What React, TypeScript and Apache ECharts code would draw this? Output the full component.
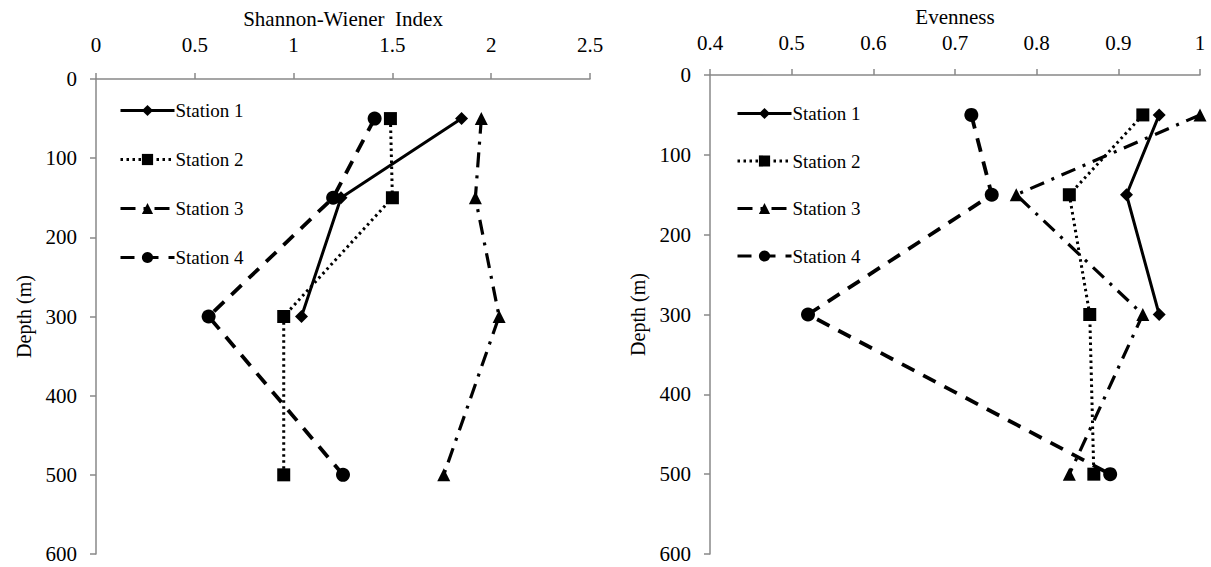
import React, { useEffect, useRef } from "react";
import * as echarts from "echarts";

const stations = ["Station 1", "Station 2", "Station 3", "Station 4"];
const depthTicks = [0, 100, 200, 300, 400, 500, 600];

// Shannon-Wiener Index: [index, depth (m)]
const sw1: number[][] = [[1.85, 50], [1.24, 150], [1.04, 300]];
const sw2: number[][] = [[1.49, 50], [1.5, 150], [0.95, 300], [0.95, 500]];
const sw3: number[][] = [[1.95, 50], [1.92, 150], [2.04, 300], [1.76, 500]];
const sw4: number[][] = [[1.41, 50], [1.2, 150], [0.57, 300], [1.25, 500]];

// Evenness: [evenness, depth (m)]
const ev1: number[][] = [[0.95, 50], [0.91, 150], [0.95, 300]];
const ev2: number[][] = [[0.93, 50], [0.84, 150], [0.865, 300], [0.87, 500]];
const ev3: number[][] = [[1.0, 50], [0.775, 150], [0.93, 300], [0.84, 500]];
const ev4: number[][] = [[0.72, 50], [0.745, 150], [0.52, 300], [0.89, 500]];

const FONT = "'Liberation Serif', 'Times New Roman', serif";

const styles = [
  { symbol: "diamond", symbolSize: 13, line: { type: "solid", width: 3 } },
  { symbol: "rect", symbolSize: 13, line: { type: [2.5, 3.5], width: 3 } },
  { symbol: "triangle", symbolSize: 13, line: { type: [15, 8, 3, 8], width: 3.2 } },
  { symbol: "circle", symbolSize: 14, line: { type: [14, 10], width: 3.8 } },
];

function makeSeries(data: number[][], idx: number, gridIdx: number) {
  const s = styles[idx];
  return {
    type: "line",
    name: stations[idx],
    xAxisIndex: gridIdx,
    yAxisIndex: gridIdx,
    data,
    symbol: s.symbol,
    symbolSize: s.symbolSize,
    showAllSymbol: true,
    itemStyle: { color: "#000" },
    lineStyle: { color: "#000", width: s.line.width, type: s.line.type },
  };
}

const axisLineStyle = { lineStyle: { color: "#888", width: 1.5 } };
const tickStyle = { show: true, inside: false, length: 6, lineStyle: { color: "#888", width: 1.5 } };

function xAxis(gridIndex: number, name: string, min: number, max: number, interval: number, gap: number, margin: number) {
  return {
    type: "value",
    gridIndex,
    position: "top",
    min,
    max,
    interval,
    name,
    nameLocation: "middle",
    nameGap: gap,
    nameTextStyle: { color: "#000", fontFamily: FONT, fontSize: 21 },
    axisLine: { show: true, ...axisLineStyle },
    axisTick: tickStyle,
    splitLine: { show: false },
    axisLabel: { color: "#000", fontFamily: FONT, fontSize: 21, margin },
  };
}

function yAxis(gridIndex: number) {
  return {
    type: "value",
    gridIndex,
    inverse: true,
    min: depthTicks[0],
    max: depthTicks[depthTicks.length - 1],
    interval: 100,
    name: "Depth (m)",
    nameLocation: "middle",
    nameGap: 62,
    nameRotate: 90,
    nameTextStyle: { color: "#000", fontFamily: FONT, fontSize: 20 },
    axisLine: { show: true, onZero: false, ...axisLineStyle },
    axisTick: tickStyle,
    splitLine: { show: false },
    axisLabel: { color: "#000", fontFamily: FONT, fontSize: 21, margin: 19 },
  };
}

function legend(left: number, top: number, gap: number) {
  return {
    data: stations,
    orient: "vertical",
    left,
    top,
    itemWidth: 54,
    itemHeight: 14,
    itemGap: gap,
    lineStyle: { width: 3 },
    textStyle: { color: "#000", fontFamily: FONT, fontSize: 19, padding: [0, 0, 0, -4] },
    selectedMode: false,
  };
}

export default function App() {
  const ref = useRef<HTMLDivElement>(null);
  useEffect(() => {
    if (!ref.current) return;
    const chart = echarts.init(ref.current, undefined, { renderer: "svg" });
    const option = {
      animation: false,
      backgroundColor: "#fff",
      grid: [
        { left: 96, top: 79, width: 494, height: 475, outerBoundsMode: "none", containLabel: false },
        { left: 710, top: 75, width: 490, height: 479, outerBoundsMode: "none", containLabel: false },
      ],
      xAxis: [
        xAxis(0, "Shannon-Wiener  Index", 0, 2.5, 0.5, 50, 24),
        xAxis(1, "Evenness", 0.4, 1, 0.1, 48, 22),
      ],
      yAxis: [yAxis(0), yAxis(1)],
      legend: [legend(114, 96, 30), legend(731, 99, 28.5)],
      series: [
        makeSeries(sw1, 0, 0),
        makeSeries(sw2, 1, 0),
        makeSeries(sw3, 2, 0),
        makeSeries(sw4, 3, 0),
        makeSeries(ev1, 0, 1),
        makeSeries(ev2, 1, 1),
        makeSeries(ev3, 2, 1),
        makeSeries(ev4, 3, 1),
      ],
    };
    chart.setOption(option as any);
    return () => chart.dispose();
  }, []);
  return (
    <div
      ref={ref}
      style={{ position: "absolute", left: 0, top: 0, width: 1211, height: 567 }}
    />
  );
}
